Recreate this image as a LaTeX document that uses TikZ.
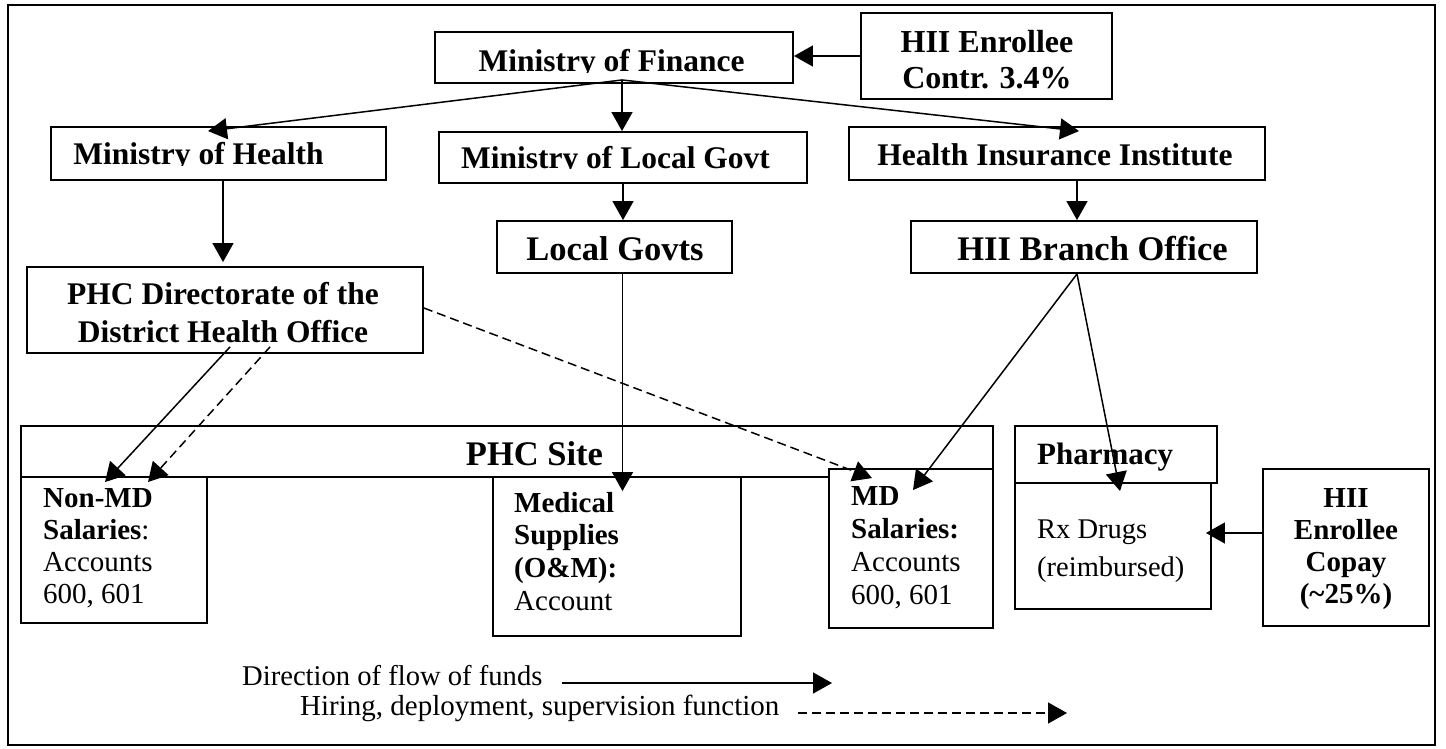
\documentclass[tikz,border=0pt]{standalone}
\usepackage{fontspec}
\setmainfont{Liberation Serif}
\usetikzlibrary{arrows.meta,calc}
\newcommand\txtL[1]{\begin{tabular}[t]{@{}l@{}}#1\end{tabular}}
\newcommand\txtC[1]{\begin{tabular}[t]{@{}c@{}}#1\end{tabular}}
\newcommand\fsz[2]{\fontsize{#1}{#2}\selectfont}
\begin{document}
\begin{tikzpicture}[x=1pt,y=-1pt,
  box/.style={draw,line width=1.9pt,rectangle,inner sep=0pt,fill=white},
  lbl/.style={inner sep=0pt},
  fund/.style={-{Triangle[length=19pt,width=21pt]},line width=1.5pt},
  hire/.style={fund,dash pattern=on 9pt off 5pt}]
\useasboundingbox (0,0) rectangle (1446,748);
\draw[line width=1.9pt] (8,5) rectangle (1435,745);

% boxes
\node[box,minimum width=358pt,minimum height=51pt] (mof) at (614,57.5) {};
\node[box,minimum width=251pt,minimum height=86pt] (hiic) at (986.5,56) {};
\node[box,minimum width=335pt,minimum height=53pt] (moh) at (218.5,153.5) {};
\node[box,minimum width=368pt,minimum height=51pt] (molg) at (623,157.5) {};
\node[box,minimum width=416pt,minimum height=53pt] (hii) at (1057,153.5) {};
\node[box,minimum width=235pt,minimum height=52pt] (lg) at (614.5,247) {};
\node[box,minimum width=346pt,minimum height=52pt] (hiib) at (1084,247) {};
\node[box,minimum width=396pt,minimum height=86pt] (phcd) at (225,310) {};
\node[box,minimum width=972pt,minimum height=51pt] (site) at (507,451.5) {};
\node[box,minimum width=186pt,minimum height=146pt] (nonmd) at (114,550) {};
\node[box,minimum width=248pt,minimum height=159pt] (med) at (617,556.5) {};
\node[box,minimum width=164pt,minimum height=159pt] (md) at (911,548.5) {};
\node[box,minimum width=196pt,minimum height=126pt] (pharmb) at (1113,546) {};
\node[box,minimum width=202pt,minimum height=57pt] (pharmh) at (1116,454.5) {};
\node[box,minimum width=166pt,minimum height=157pt] (copay) at (1346,547.5) {};

% texts
\begin{scope}
\clip (436,33) rectangle (792,72);
\node[lbl,anchor=base,font={\bfseries\fsz{31.5}{36}}] (tmof) at (611.5,71) {Ministry of Finance};
\end{scope}
\node[lbl,anchor=base,font={\bfseries\fsz{32}{36}}] (thiic) at (987,52) {\txtC{HII Enrollee\\Contr. 3.4\%}};
\begin{scope}
\clip (52,128) rectangle (385,165);
\node[lbl,anchor=base,font={\bfseries\fsz{31.5}{36}}] (tmoh) at (198.5,164) {Ministry of Health};
\end{scope}
\begin{scope}
\clip (440,133) rectangle (806,168.5);
\node[lbl,anchor=base,font={\bfseries\fsz{31.5}{36}}] (tmolg) at (615.5,168) {Ministry of Local Govt};
\end{scope}
\node[lbl,anchor=base,font={\bfseries\fsz{31.5}{36}}] (thii) at (1055,165) {Health Insurance Institute};
\node[lbl,anchor=base,font={\bfseries\fsz{34.5}{38}}] (tlg) at (615,260) {Local Govts};
\node[lbl,anchor=base,font={\bfseries\fsz{34.5}{38}}] (thiib) at (1092.5,260) {HII Branch Office};
\node[lbl,anchor=base,font={\bfseries\fsz{31.5}{38}}] (tphcd) at (223,304) {\txtC{PHC Directorate of the\\District Health Office}};
\node[lbl,anchor=base,font={\bfseries\fsz{34.5}{38}}] (tsite) at (534.5,465) {PHC Site};
\node[lbl,anchor=base west,font={\fsz{29}{32.3}}] (tnonmd) at (43,507) {\txtL{\textbf{Non-MD}\\\textbf{Salaries}:\\Accounts\\600, 601}};
\node[lbl,anchor=base west,font={\fsz{29}{32.7}}] (tmed) at (514,512) {\txtL{\textbf{Medical}\\\textbf{Supplies}\\\textbf{(O\&M):}\\Account}};
\node[lbl,anchor=base west,font={\fsz{29}{33}}] (tmd) at (851,505) {\txtL{\textbf{MD}\\\textbf{Salaries:}\\Accounts\\600, 601}};
\node[lbl,anchor=base west,font={\bfseries\fsz{31}{36}}] (tpharmh) at (1037,464) {Pharmacy};
\node[lbl,anchor=base west,font={\fsz{28.5}{38}}] (tpharmb) at (1037,538) {\txtL{Rx Drugs\\(reimbursed)}};
\node[lbl,anchor=base,font={\bfseries\fsz{29}{32.3}}] (tcopay) at (1346,507) {\txtC{HII\\Enrollee\\Copay\\(\textasciitilde 25\%)}};
\node[lbl,anchor=base west,font={\fsz{28.6}{33}}] (tleg1) at (242,685) {Direction of flow of funds};
\node[lbl,anchor=base west,font={\fsz{29}{33}}] (tleg2) at (300,715) {Hiring, deployment, supervision function};

% connectors
\draw[fund] (hiic.west) -- (hiic.west -| mof.east);
\coordinate (mofo) at ([xshift=8pt,yshift=4pt]mof.south);
\draw[fund] (mofo) -- ([xshift=-10.5pt,yshift=-5pt]moh.north);
\draw[fund] (mofo) -- (mofo |- molg.north);
\draw[fund] (mofo) -- ([xshift=22pt,yshift=-5pt]hii.north);
\draw[fund] ([xshift=20pt]hii.south) -- ([xshift=20pt]hii.south |- hiib.north);
\draw[fund] (molg.south) -- (molg.south |- lg.north);
\draw[fund] ([xshift=4.5pt]moh.south) -- ([xshift=-2pt,yshift=4pt]phcd.north);
\draw[fund] ([xshift=5pt,yshift=7pt]phcd.south) -- ([xshift=-9pt,yshift=-6pt]nonmd.north);
\draw[hire] ([xshift=45pt,yshift=7pt]phcd.south) -- ([xshift=34pt,yshift=-6pt]nonmd.north);
\draw[hire] ([yshift=2pt]phcd.east) -- ([xshift=-39pt,yshift=-10pt]md.north);
\coordinate (medin) at ([xshift=5.5pt,yshift=-15pt]med.north);
\draw[fund] ([xshift=8pt]lg.south) -- (medin);
\coordinate (hiibo) at ([xshift=-7pt]hiib.south);
\draw[fund] (hiibo) -- ([xshift=2pt,yshift=-22pt]md.north);
\draw[fund] (hiibo) -- ([xshift=7pt,yshift=-9pt]pharmb.north);
\coordinate (cpo) at ([yshift=14.5pt]copay.west);
\coordinate (phin) at ([xshift=-6pt]pharmb.east);
\draw[fund] (cpo) -- (cpo -| phin);

% legend
\coordinate (l1s) at (562,683);
\coordinate (l1e) at (832,683);
\draw[fund] (l1s) -- (l1e);
\coordinate (l2s) at (798,713);
\coordinate (l2e) at (1067,713);
\draw[hire] (l2s) -- (l2e);
\end{tikzpicture}
\end{document}
